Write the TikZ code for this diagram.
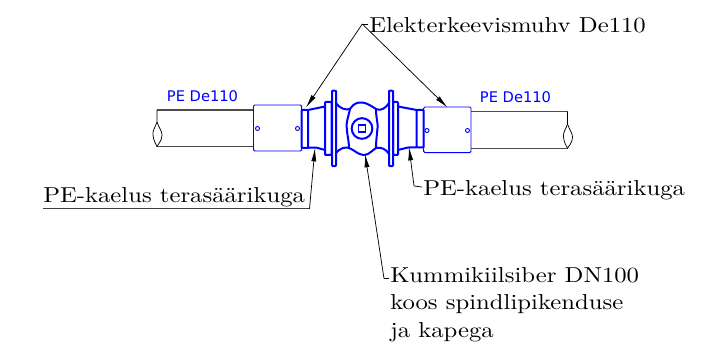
\documentclass[tikz,border=0pt]{standalone}
\usepackage{fontspec}
\setmainfont{lmroman10-regular}[Extension=.otf,FakeStretch=1.143]
\newfontfamily\bluefont{DejaVu Sans}
\definecolor{vblue}{RGB}{0,0,255}
\usetikzlibrary{arrows.meta}
\tikzset{
  lbl/.style={anchor=west,inner sep=0pt,font=\fontsize{16.2pt}{20.6pt}\selectfont,align=left,text=black},
  bl/.style={anchor=center,inner sep=0pt,font=\bluefont\fontsize{11pt}{13pt}\selectfont,text=vblue},
  pipe/.style={draw=black!70,line width=1pt},
  brk/.style={draw=black,line width=0.55pt},
  muhv/.style={draw=vblue,line width=0.7pt,rounded corners=1pt},
  thick blue/.style={draw=vblue,line width=1.5pt,line join=round,rounded corners=0.6pt},
  hole/.style={circle,draw=vblue,line width=0.7pt,minimum size=3pt,inner sep=0pt},
  lead/.style={draw=black,line width=0.55pt},
  tip/.style={lead,-{Latex[length=10pt,width=3.8pt]}}
}
\begin{document}
\begin{tikzpicture}[x=0.75pt,y=-0.75pt]
\useasboundingbox (0,0) rectangle (728,348);
% pipes
\draw[pipe] (157,110) -- (253.5,110) (157,146.7) -- (253.5,146.7);
\draw[pipe] (471,111.7) -- (567.5,111.7) (471,148.3) -- (567.5,148.3);
\draw[brk] (157,110) -- (157,122) .. controls (155,128) and (152.5,130) .. (153,135) .. controls (153.5,141) and (156,144) .. (157,146.7);
\draw[brk] (157,122) .. controls (159,128) and (162,131) .. (162,135) .. controls (162,141) and (158,144) .. (157,146.7);
\draw[brk] (567.5,111.7) -- (567.5,124) .. controls (565.5,130) and (563,132) .. (563.5,137) .. controls (564,143) and (566.5,146) .. (567.5,148.3);
\draw[brk] (567.5,124) .. controls (569.5,130) and (572.5,133) .. (572.5,137) .. controls (572.5,143) and (568.5,146) .. (567.5,148.3);
% couplers
\draw[muhv] (253.5,105) rectangle (301.7,151);
\draw[muhv] (423.7,107) rectangle (471,152.7);
\node[hole] (h1) at (257.5,128.5) {};
\node[hole] (h2) at (297.5,128.5) {};
\node[hole] (h3) at (427,130.5) {};
\node[hole] (h4) at (467.5,130.5) {};
% left neck
\draw[thick blue] (301.7,110) rectangle (308,147.8);
\draw[thick blue] (308,110) -- (325,106.5);
\draw[thick blue] (308,147.8) -- (316,147.5) -- (325,150);
\draw[thick blue] (325,102) rectangle (331.5,155);
\draw[thick blue] (332,92) .. controls (332,90.5) and (336,90.5) .. (336,92) -- (336,164.5) .. controls (336,166.5) and (332,166.5) .. (332,164.5) -- cycle;
% right neck
\draw[thick blue] (416.7,110) rectangle (423.7,147.5);
\draw[thick blue] (416.7,110) -- (398,106.5);
\draw[thick blue] (416.7,147.5) -- (408,147.5) -- (398,150);
\draw[thick blue] (393,102) rectangle (398,155);
\draw[thick blue] (389,92) .. controls (389,90.5) and (393,90.5) .. (393,92) -- (393,164.5) .. controls (393,166.5) and (389,166.5) .. (389,164.5) -- cycle;
% body
\draw[thick blue] (336,103) .. controls (340,109) and (346,110) .. (350,109)
  .. controls (354,103) and (358,102.5) .. (362,102.5) .. controls (366,103) and (370,105) .. (376,109)
  .. controls (381,111) and (386,108) .. (389,103);
\draw[thick blue] (336,153) .. controls (340,148) and (345,147) .. (349,148)
  .. controls (354,150) and (358,154.5) .. (364,155) .. controls (369,154.5) and (373,150) .. (376,148)
  .. controls (381,147) and (386,149) .. (389,154);
\draw[thick blue] (350,109) .. controls (348,118) and (346,123) .. (346.8,128) .. controls (347,134) and (349,141) .. (349,148);
\draw[thick blue] (376,109) .. controls (376,118) and (378,123) .. (377.5,128) .. controls (377,134) and (376,141) .. (376,148);
\node[circle,draw=vblue,line width=1.5pt,minimum size=15.5pt,inner sep=0pt] (sp) at (362,128.5) {};
\node[draw=vblue,line width=1.2pt,minimum size=5pt,inner sep=0pt] (sq) at (362,128.5) {};
% labels
\node[bl] (b1) at (202.5,96) {PE De110};
\node[bl] (b2) at (515.5,97) {PE De110};
\node[lbl] (t1) at (369,25) {Elekterkeevismuhv De110};
\node[lbl] (t2) at (43,197) {PE-kaelus terasäärikuga};
\node[lbl] (t3) at (423,190) {PE-kaelus terasäärikuga};
\node[lbl,anchor=north west] (t4) at (390,267) {Kummikiilsiber DN100\\koos spindlipikenduse\\ja kapega};
% leaders
\coordinate (a) at (362.3,24);
\coordinate (ta1) at (306,107.5);
\coordinate (ta2) at (447.5,107.5);
\coordinate (tb) at (315,148);
\coordinate (tc) at (409,147);
\coordinate (td) at (365,154);
\coordinate (ub0) at (43,208.7);
\coordinate (ub1) at (309.5,208.7);
\coordinate (uc) at (414,186);
\coordinate (ud) at (384,278.5);
\draw[lead] (t1.west) ++(-1,-1) -- (a);
\draw[tip] (a) -- (ta1);
\draw[tip] (a) -- (ta2);
\draw[lead,draw=black!75,line width=0.8pt] (ub0) -- (ub1);
\draw[tip] (ub1) -- (tb);
\draw[lead] (t3.west) ++(-1,-3) -- (uc);
\draw[tip] (uc) -- (tc);
\draw[lead] (389,278.5) -- (ud);
\draw[tip] (ud) -- (td);
\end{tikzpicture}
\end{document}
